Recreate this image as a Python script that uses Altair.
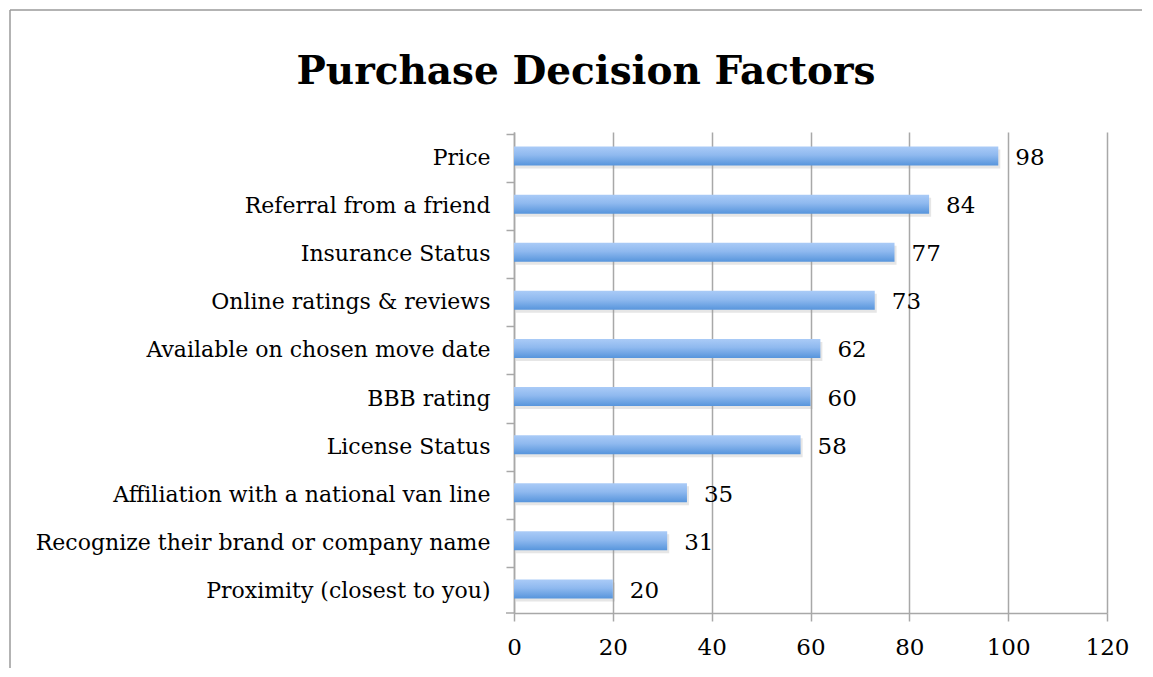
import altair as alt
import pandas as pd

title_text = "Purchase Decision Factors"
categories = [
    "Price",
    "Referral from a friend",
    "Insurance Status",
    "Online ratings & reviews",
    "Available on chosen move date",
    "BBB rating",
    "License Status",
    "Affiliation with a national van line",
    "Recognize their brand or company name",
    "Proximity (closest to you)",
]
values = [98, 84, 77, 73, 62, 60, 58, 35, 31, 20]
x_ticks = [0, 20, 40, 60, 80, 100, 120]

df = pd.DataFrame({"factor": categories, "value": values})

FONT = "DejaVu Serif"
GRID = "#a8a8a8"
W, H = 593, 481

base = alt.Chart(df)

yenc = alt.Y(
    "factor:N",
    sort=categories,
    title=None,
    axis=alt.Axis(
        bandPosition=0,
        tickSize=8,
        tickColor=GRID,
        domainColor=GRID,
        domainWidth=1.5,
        tickWidth=1.5,
        labelFont=FONT,
        labelFontSize=22,
        labelColor="black",
        labelPadding=16,
        labelOffset=2,
        labelLimit=0,
        grid=False,
    ),
)
xenc = alt.X(
    "value:Q",
    title=None,
    scale=alt.Scale(domain=[0, 120], nice=False),
    axis=alt.Axis(
        values=x_ticks,
        grid=True,
        gridColor=GRID,
        gridWidth=1.5,
        tickSize=8,
        tickColor=GRID,
        tickWidth=1.5,
        domainColor=GRID,
        domainWidth=1.5,
        labelFont=FONT,
        labelFontSize=23,
        labelColor="black",
        labelPadding=15,
        labelFlush=False,
    ),
)

shadow = base.mark_bar(size=19, color="#9a9a9a", opacity=0.25, xOffset=2, yOffset=3).encode(
    x=xenc, y=yenc
)

bars = base.mark_bar(
    size=19,
    color=alt.Gradient(
        gradient="linear",
        x1=0, y1=0, x2=0, y2=1,
        stops=[
            alt.GradientStop(color="#aacbf7", offset=0),
            alt.GradientStop(color="#8fb9ef", offset=0.45),
            alt.GradientStop(color="#5795dc", offset=1),
        ],
    ),
).encode(x=xenc, y=yenc)

labels = base.mark_text(align="left", baseline="middle", dx=17, dy=2, font=FONT, fontSize=23, color="black").encode(
    x=xenc, y=yenc, text="value:Q"
)

one = pd.DataFrame({"t": [title_text]})
frame_top = alt.Chart(one).mark_rule(color="#9a9a9a", strokeWidth=1.5).encode(
    x=alt.value(-504), x2=alt.value(628), y=alt.value(-122)
)
frame_left = alt.Chart(one).mark_rule(color="#9a9a9a", strokeWidth=1.5).encode(
    x=alt.value(-504), y=alt.value(-122), y2=alt.value(536)
)
bottom_tick = alt.Chart(one).mark_rule(color=GRID, strokeWidth=1.5).encode(
    x=alt.value(-8), x2=alt.value(0), y=alt.value(H)
)
title = alt.Chart(one).mark_text(
    font=FONT, fontSize=39, fontWeight="bold", color="black", align="center", baseline="middle"
).encode(text="t:N", x=alt.value(72), y=alt.value(-60))

chart = alt.layer(frame_top, frame_left, shadow, bars, labels, bottom_tick, title).properties(
    width=W, height=H, padding={"left": 1, "top": 1, "right": 0, "bottom": 0}
).configure_view(strokeWidth=0)

chart.save("out.html", embed_options={"renderer": "svg", "actions": False})
